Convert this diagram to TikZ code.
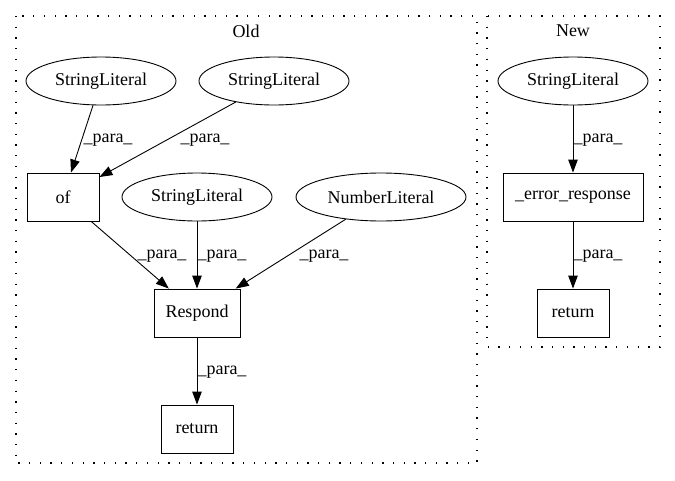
\documentclass[tikz,border=0pt]{standalone}
\usepackage{fontspec}
\setmainfont{Liberation Serif}
\usetikzlibrary{arrows.meta,shapes.geometric}

\tikzset{
  lit/.style={draw,ellipse,inner sep=0pt,minimum width=150pt,minimum height=48pt,line width=0.9pt,font=\fontsize{18}{20}\selectfont},
  callbox/.style={draw,rectangle,inner sep=0pt,minimum height=48pt,line width=0.9pt,font=\fontsize{18}{20}\selectfont},
  flow/.style={-{Triangle[length=13pt,width=9.5pt]},line width=0.9pt},
  paralbl/.style={font=\fontsize{18}{20}\selectfont,inner sep=0pt},
  cluster/.style={line width=1.3pt,dash pattern=on 1.3pt off 9.4pt}
}

\begin{document}
\begin{tikzpicture}[x=1pt,y=-1pt]
\useasboundingbox (0,0) rectangle (675,480);

%% clusters
\draw [cluster] (16,16) rectangle (477,463);
\node [paralbl] (oldtitle) at (246,31) {Old};
\draw [cluster] (487,16) rectangle (660,347);
\node [paralbl] (newtitle) at (573,31) {New};

%% old
\node [lit] (strlitA) at (101,81) {StringLiteral};
\node [lit] (strlitB) at (274,81) {StringLiteral};
\node [callbox,minimum width=72pt] (of) at (63,197) {of};
\node [lit] (strlitC) at (197,197) {StringLiteral};
\node [lit,minimum width=170pt] (numlit) at (381,197) {NumberLiteral};
\node [callbox,minimum width=86pt] (respond) at (197,313) {Respond};
\node [callbox,minimum width=72pt] (retold) at (197,429) {return};

\draw [flow] (strlitA) -- (of);
\draw [flow] (strlitB) -- (of);
\draw [flow] (of) -- (respond);
\draw [flow] (strlitC) -- (respond);
\draw [flow] (numlit) -- (respond);
\draw [flow] (respond) -- (retold);

\node [paralbl] (pA) at (108,140) {\_para\_};
\node [paralbl] (pB) at (205,140) {\_para\_};
\node [paralbl] (pC) at (162,256) {\_para\_};
\node [paralbl] (pD) at (222,256) {\_para\_};
\node [paralbl] (pE) at (324,256) {\_para\_};
\node [paralbl] (pF) at (222,372) {\_para\_};

%% new
\node [lit] (strlitN) at (573,81) {StringLiteral};
\node [callbox,minimum width=140pt] (errresp) at (573,197) {\_error\_response};
\node [callbox,minimum width=72pt] (retnew) at (573,313) {return};

\draw [flow] (strlitN) -- (errresp);
\draw [flow] (errresp) -- (retnew);

\node [paralbl] (pG) at (598,140) {\_para\_};
\node [paralbl] (pH) at (598,256) {\_para\_};

\end{tikzpicture}
\end{document}
